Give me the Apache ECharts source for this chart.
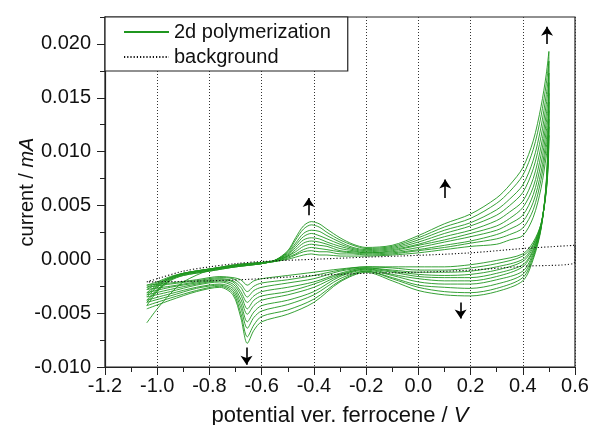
<!DOCTYPE html>
<html>
<head>
<meta charset="utf-8">
<script src="https://cdn.jsdelivr.net/npm/echarts@6/dist/echarts.min.js"></script>
<style>
  html, body { margin: 0; padding: 0; background: #fff; }
  #chart { width: 590px; height: 425px; }
</style>
</head>
<body>
<div id="chart"></div>
<script>
// potential (V vs. ferrocene) of the anodic sweep and of the way back
const forwardPotential = [-1.04, -1.0, -0.95, -0.9, -0.8, -0.7, -0.6, -0.55, -0.5, -0.47, -0.44, -0.41, -0.38, -0.35, -0.3, -0.25, -0.2, -0.1, 0.0, 0.1, 0.2, 0.3, 0.35, 0.4, 0.44, 0.47, 0.49, 0.5]
const reversePotential = [0.498, 0.49, 0.47, 0.44, 0.4, 0.3, 0.2, 0.1, 0.0, -0.1, -0.2, -0.3, -0.4, -0.5, -0.6, -0.63, -0.655, -0.68, -0.71, -0.76, -0.85, -0.95, -1.04]

// current (mA), one pair of arrays per polymerization cycle
const forward1 = [-0.0059, -0.0046, -0.0032, -0.0021, -0.0010, -0.0005, -0.0003, -0.0002, 0.0000, 0.0002, 0.0004, 0.0005, 0.0004, 0.0004, 0.0003, 0.0003, 0.0003, 0.0004, 0.0006, 0.0009, 0.0012, 0.0014, 0.0018, 0.0022, 0.0039, 0.0066, 0.0096, 0.0115]
const reverse1 = [0.0090, 0.0063, 0.0033, 0.0016, 0.0005, -0.0001, -0.0005, -0.0007, -0.0007, -0.0007, -0.0007, -0.0009, -0.0012, -0.0015, -0.0018, -0.0020, -0.0024, -0.0019, -0.0017, -0.0016, -0.0019, -0.0022, -0.0024]
const forward2 = [-0.0024, -0.0021, -0.0016, -0.0013, -0.0009, -0.0005, -0.0003, -0.0002, 0.0001, 0.0004, 0.0007, 0.0008, 0.0007, 0.0007, 0.0005, 0.0005, 0.0004, 0.0005, 0.0008, 0.0011, 0.0015, 0.0019, 0.0023, 0.0029, 0.0046, 0.0074, 0.0104, 0.0123]
const reverse2 = [0.0094, 0.0064, 0.0033, 0.0014, 0.0003, -0.0004, -0.0008, -0.0010, -0.0010, -0.0008, -0.0007, -0.0010, -0.0015, -0.0019, -0.0022, -0.0025, -0.0030, -0.0023, -0.0018, -0.0017, -0.0020, -0.0023, -0.0026]
const forward3 = [-0.0026, -0.0022, -0.0017, -0.0013, -0.0009, -0.0006, -0.0003, -0.0002, 0.0002, 0.0005, 0.0009, 0.0011, 0.0010, 0.0009, 0.0007, 0.0006, 0.0005, 0.0006, 0.0009, 0.0013, 0.0017, 0.0023, 0.0028, 0.0035, 0.0053, 0.0081, 0.0111, 0.0130]
const reverse3 = [0.0097, 0.0065, 0.0032, 0.0013, 0.0000, -0.0007, -0.0011, -0.0012, -0.0012, -0.0010, -0.0008, -0.0011, -0.0018, -0.0022, -0.0026, -0.0029, -0.0035, -0.0026, -0.0020, -0.0018, -0.0021, -0.0025, -0.0028]
const forward4 = [-0.0028, -0.0023, -0.0017, -0.0013, -0.0009, -0.0006, -0.0003, -0.0002, 0.0003, 0.0007, 0.0012, 0.0014, 0.0013, 0.0012, 0.0008, 0.0007, 0.0006, 0.0007, 0.0011, 0.0016, 0.0021, 0.0027, 0.0033, 0.0041, 0.0060, 0.0089, 0.0119, 0.0138]
const reverse4 = [0.0101, 0.0066, 0.0032, 0.0011, -0.0002, -0.0010, -0.0014, -0.0015, -0.0014, -0.0011, -0.0008, -0.0013, -0.0021, -0.0026, -0.0030, -0.0034, -0.0040, -0.0030, -0.0021, -0.0019, -0.0022, -0.0026, -0.0031]
const forward5 = [-0.0031, -0.0024, -0.0017, -0.0013, -0.0009, -0.0006, -0.0003, -0.0001, 0.0003, 0.0009, 0.0015, 0.0017, 0.0016, 0.0014, 0.0010, 0.0008, 0.0006, 0.0008, 0.0013, 0.0018, 0.0024, 0.0031, 0.0038, 0.0048, 0.0067, 0.0097, 0.0127, 0.0146]
const reverse5 = [0.0104, 0.0067, 0.0031, 0.0009, -0.0005, -0.0013, -0.0017, -0.0017, -0.0016, -0.0012, -0.0009, -0.0014, -0.0023, -0.0030, -0.0034, -0.0038, -0.0046, -0.0033, -0.0023, -0.0020, -0.0023, -0.0028, -0.0033]
const forward6 = [-0.0033, -0.0025, -0.0018, -0.0014, -0.0010, -0.0006, -0.0004, -0.0001, 0.0004, 0.0011, 0.0018, 0.0020, 0.0019, 0.0016, 0.0012, 0.0009, 0.0007, 0.0009, 0.0014, 0.0021, 0.0027, 0.0036, 0.0044, 0.0054, 0.0075, 0.0105, 0.0135, 0.0154]
const reverse6 = [0.0108, 0.0068, 0.0031, 0.0008, -0.0007, -0.0016, -0.0020, -0.0020, -0.0018, -0.0014, -0.0009, -0.0015, -0.0026, -0.0033, -0.0038, -0.0043, -0.0051, -0.0037, -0.0025, -0.0021, -0.0024, -0.0030, -0.0035]
const forward7 = [-0.0035, -0.0026, -0.0018, -0.0014, -0.0010, -0.0006, -0.0004, -0.0001, 0.0005, 0.0013, 0.0021, 0.0024, 0.0022, 0.0019, 0.0014, 0.0010, 0.0008, 0.0010, 0.0016, 0.0024, 0.0031, 0.0041, 0.0050, 0.0062, 0.0084, 0.0114, 0.0144, 0.0164]
const reverse7 = [0.0112, 0.0069, 0.0030, 0.0006, -0.0011, -0.0019, -0.0023, -0.0023, -0.0021, -0.0015, -0.0010, -0.0016, -0.0030, -0.0038, -0.0043, -0.0049, -0.0058, -0.0041, -0.0027, -0.0023, -0.0026, -0.0032, -0.0038]
const forward8 = [-0.0038, -0.0028, -0.0019, -0.0014, -0.0010, -0.0007, -0.0004, -0.0001, 0.0006, 0.0015, 0.0024, 0.0027, 0.0026, 0.0022, 0.0016, 0.0011, 0.0009, 0.0011, 0.0018, 0.0027, 0.0034, 0.0046, 0.0056, 0.0069, 0.0092, 0.0123, 0.0153, 0.0173]
const reverse8 = [0.0116, 0.0070, 0.0029, 0.0004, -0.0014, -0.0023, -0.0027, -0.0026, -0.0024, -0.0017, -0.0011, -0.0018, -0.0033, -0.0042, -0.0048, -0.0054, -0.0064, -0.0045, -0.0029, -0.0024, -0.0027, -0.0034, -0.0040]
const forward9 = [-0.0040, -0.0029, -0.0019, -0.0015, -0.0011, -0.0007, -0.0004, -0.0001, 0.0007, 0.0018, 0.0028, 0.0032, 0.0030, 0.0025, 0.0018, 0.0013, 0.0010, 0.0012, 0.0020, 0.0030, 0.0038, 0.0052, 0.0063, 0.0078, 0.0102, 0.0133, 0.0163, 0.0184]
const reverse9 = [0.0121, 0.0071, 0.0029, 0.0002, -0.0017, -0.0027, -0.0031, -0.0030, -0.0026, -0.0018, -0.0011, -0.0020, -0.0037, -0.0047, -0.0053, -0.0061, -0.0072, -0.0050, -0.0031, -0.0025, -0.0029, -0.0036, -0.0043]
const forward10 = [-0.0043, -0.0030, -0.0020, -0.0015, -0.0011, -0.0007, -0.0004, -0.0001, 0.0008, 0.0020, 0.0031, 0.0035, 0.0033, 0.0028, 0.0020, 0.0014, 0.0011, 0.0013, 0.0022, 0.0033, 0.0042, 0.0057, 0.0069, 0.0085, 0.0110, 0.0142, 0.0172, 0.0193]
const reverse10 = [0.0125, 0.0072, 0.0028, 0.0000, -0.0020, -0.0030, -0.0034, -0.0033, -0.0029, -0.0020, -0.0012, -0.0021, -0.0040, -0.0051, -0.0058, -0.0066, -0.0078, -0.0054, -0.0033, -0.0026, -0.0030, -0.0038, -0.0046]

// background scan (no monomer)
const bgForwardPotential = [-1.04, -1.0, -0.9, -0.8, -0.7, -0.6, -0.4, -0.2, 0.0, 0.2, 0.4, 0.6]
const bgForwardCurrent = [-0.0021, -0.0018, -0.0011, -0.0007, -0.0004, -0.0002, 0.0000, 0.0002, 0.00037, 0.0006, 0.0010, 0.0013]
const bgReversePotential = [0.6, 0.4, 0.2, 0.0, -0.2, -0.4, -0.6, -0.8, -1.04]
const bgReverseCurrent = [-0.00025, -0.00065, -0.0010, -0.0012, -0.0013, -0.0015, -0.0018, -0.0020, -0.0021]

// growth arrows: potential, tail current, head current
const arrowPotential = [0.493, 0.103, -0.42, -0.658, 0.162]
const arrowFrom = [0.0200, 0.0057, 0.0041, -0.0082, -0.0040]
const arrowTo = [0.0216, 0.0074, 0.0057, -0.0098, -0.0055]

const forwardSweeps = [forward1, forward2, forward3, forward4, forward5, forward6, forward7, forward8, forward9, forward10]
const reverseSweeps = [reverse1, reverse2, reverse3, reverse4, reverse5, reverse6, reverse7, reverse8, reverse9, reverse10]

const font = "'Liberation Sans', Arial, sans-serif"
const ink = '#222'

const chart = echarts.init(document.getElementById('chart'))

const cycleSeries = forwardSweeps.map((fwd, k) => ({
  name: '2d polymerization',
  type: 'line',
  smooth: 0.3,
  symbol: 'none',
  silent: true,
  color: '#1f961f',
  lineStyle: { color: '#1f961f', width: 0.9 },
  data: fwd
    .map((v, i) => [forwardPotential[i], v])
    .concat(reverseSweeps[k].map((v, i) => [reversePotential[i], v])),
}))

const option = {
  animation: false,
  backgroundColor: '#fff',
  textStyle: { fontFamily: font },
  grid: {
    left: 105,
    right: 15,
    top: 17,
    bottom: 58,
    // keep the plot box where it is, the axis title may run off the bottom
    outerBoundsMode: 'none',
    containLabel: false,
    show: true,
    borderColor: ink,
    borderWidth: 1.2,
  },
  legend: {
    data: ['2d polymerization', 'background'],
    orient: 'vertical',
    left: 105,
    top: 17,
    padding: [5, 17, 4, 18],
    itemGap: 5,
    itemWidth: 45,
    itemHeight: 12,
    borderColor: ink,
    borderWidth: 1.2,
    backgroundColor: '#fff',
    selectedMode: false,
    // line sample only, no marker
    itemStyle: { opacity: 0 },
    textStyle: { fontFamily: font, fontSize: 20, color: '#111' },
  },
  xAxis: {
    type: 'value',
    min: -1.2,
    max: 0.6,
    interval: 0.2,
    name: 'potential ver. ferrocene / {i|V}',
    nameLocation: 'middle',
    nameGap: 38,
    nameMoveOverlap: false,
    nameTextStyle: {
      fontFamily: font,
      fontSize: 22,
      color: '#111',
      rich: { i: { fontFamily: font, fontSize: 22, fontStyle: 'italic', color: '#111' } },
    },
    axisLine: { show: true, onZero: false, lineStyle: { color: ink, width: 1.2 } },
    axisTick: { length: 8, lineStyle: { color: ink } },
    minorTick: { show: true, splitNumber: 2, length: 5, lineStyle: { color: ink } },
    axisLabel: {
      margin: 9,
      fontFamily: font,
      fontSize: 20,
      color: '#111',
      formatter: v => (Math.abs(v) < 1e-9 ? '0.0' : v.toFixed(1)),
    },
    splitLine: { show: true, lineStyle: { color: '#333', type: [1, 2], width: 1 } },
  },
  yAxis: [
    {
      type: 'value',
      min: -0.01,
      max: 0.0225,
      interval: 0.005,
      name: 'current / {i|mA}',
      nameLocation: 'middle',
      nameGap: 68,
      nameMoveOverlap: false,
      nameTextStyle: {
        fontFamily: font,
        fontSize: 20,
        color: '#111',
        rich: { i: { fontFamily: font, fontSize: 20, fontStyle: 'italic', color: '#111' } },
      },
      axisLine: { show: true, onZero: false, lineStyle: { color: ink, width: 1.2 } },
      axisTick: { length: 8, lineStyle: { color: ink } },
      axisLabel: {
        margin: 14,
        fontFamily: font,
        fontSize: 20,
        color: '#111',
        showMaxLabel: false,
        formatter: v => (Math.abs(v) < 1e-9 ? '0.000' : v.toFixed(3)),
      },
      splitLine: { show: false },
    },
    {
      // minor ticks only
      type: 'value',
      min: -0.01,
      max: 0.0225,
      interval: 0.0025,
      position: 'left',
      axisLine: { show: false, onZero: false },
      axisTick: { show: true, length: 5, lineStyle: { color: ink } },
      axisLabel: { show: false },
      splitLine: { show: false },
    },
  ],
  series: [
    ...cycleSeries,
    {
      name: 'background',
      type: 'line',
      smooth: 0.3,
      symbol: 'none',
      silent: true,
      color: '#111',
      lineStyle: { color: '#111', width: 1.1, type: [1.2, 2] },
      data: bgForwardPotential
        .map((v, i) => [v, bgForwardCurrent[i]])
        .concat(bgReversePotential.map((v, i) => [v, bgReverseCurrent[i]])),
      markLine: {
        silent: true,
        symbol: ['none', 'arrow'],
        symbolSize: 9,
        label: { show: false },
        lineStyle: { color: '#000', width: 1.6, type: 'solid' },
        data: arrowPotential.map((x, i) => [{ coord: [x, arrowFrom[i]] }, { coord: [x, arrowTo[i]] }]),
      },
    },
  ],
}

chart.setOption(option)
</script>
</body>
</html>
